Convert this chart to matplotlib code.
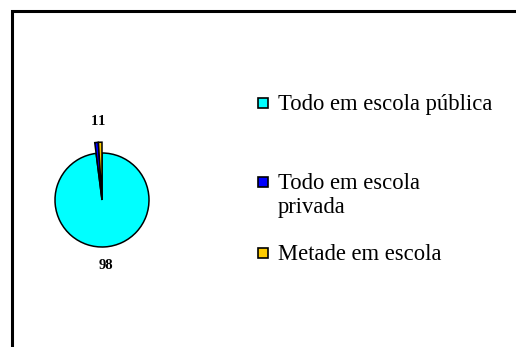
import matplotlib.pyplot as plt
from matplotlib.patches import Rectangle

# Data
categories = ['Todo em escola pública', 'Todo em escola\nprivada', 'Metade em escola']
values = [98, 1, 1]
colors = ['#00FFFF', '#0000FF', '#FFCC00']

W, H = 516, 347
fig = plt.figure(figsize=(W / 100, H / 100), dpi=100)

# Pie axes: centre at (102, 200) px, radius 47 px
r_px = 47
cx, cy = 102, 200
half = 100
ax = fig.add_axes([(cx - half) / W, 1 - (cy + half) / H, 2 * half / W, 2 * half / H])

wedges, texts = ax.pie(values, labels=[str(v) for v in values], colors=colors,
                       startangle=90, counterclock=False, labeldistance=1.4,
                       wedgeprops=dict(edgecolor='black', linewidth=1.1),
                       textprops=dict(family='Liberation Serif', fontsize=10.5,
                                      fontweight='bold', ha='center', va='center'))

# pie() sets its own limits, so fix the scale afterwards
lim = half / r_px
ax.set_xlim(-lim, lim)
ax.set_ylim(-lim, lim)
ax.set_aspect('equal')
ax.axis('off')

# small slices stick out a bit past the rim, labels sit higher and side by side
for i, (w, t) in enumerate(zip(wedges[1:], texts[1:])):
    w.set_radius(1.23)
    x, y = t.get_position()
    t.set_position((-0.17 + 0.16 * i, y * 1.2))

# legend drawn by hand (Excel-style spacing)
leg_y = [103, 182, 253]
for lab, col, y in zip(categories, colors, leg_y):
    fig.patches.append(Rectangle((258 / W, 1 - (y + 5) / H), 10 / W, 10 / H,
                                 transform=fig.transFigure, facecolor=col,
                                 edgecolor='black', linewidth=1.2))
    fig.text(278 / W, 1 - (y - 9) / H, lab, family='Liberation Serif', fontsize=16.3,
             ha='left', va='top', linespacing=1.2)

# outer frame
fig.patches.append(Rectangle((11.5 / W, -0.1), 1.2, 1 - 11.5 / H + 0.1,
                             transform=fig.transFigure, fill=False,
                             edgecolor='black', linewidth=2.2))

fig.savefig('out.png', dpi=100)
